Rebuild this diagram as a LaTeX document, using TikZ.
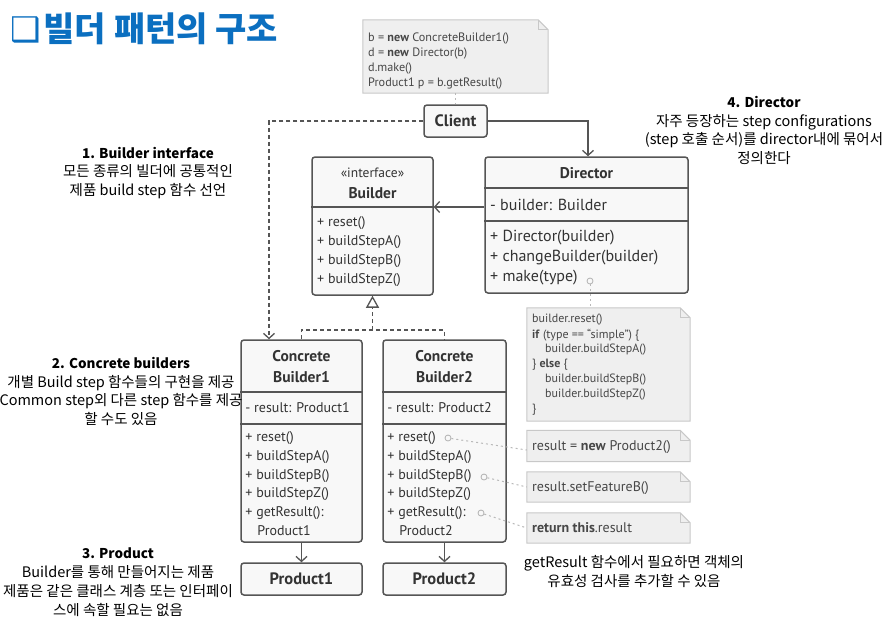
\documentclass[tikz,border=0pt]{standalone}
\usepackage{fontspec}
\setmainfont{PT Sans}
\newfontfamily\kr{Noto Sans CJK KR}
\newfontfamily\dvs{DejaVu Sans}
\usetikzlibrary{arrows.meta}
\definecolor{boxc}{HTML}{555555}
\definecolor{txt}{HTML}{333333}
\definecolor{notefill}{HTML}{EFEFEF}
\definecolor{noteline}{HTML}{C8C8C8}
\definecolor{titleblue}{HTML}{0B6FC0}
\definecolor{boxfill}{HTML}{F8F8F8}
\newcommand\annhead{\bfseries\fontsize{13.5}{18.8}\selectfont}
\newcommand\drawnote[1]{%
  \draw[noteline, fill=notefill, line width=1pt]
    (#1.north west) -- ([xshift=-10pt]#1.north east) -- ([yshift=-10pt]#1.north east)
    -- (#1.south east) -- (#1.south west) -- cycle;
  \draw[noteline, line width=0.8pt]
    ([xshift=-10pt]#1.north east) -- ([xshift=-10pt,yshift=-10pt]#1.north east) -- ([yshift=-10pt]#1.north east);}
\tikzset{
  umlbox/.style={draw=boxc, line width=1.5pt, rounded corners=3pt, fill=boxfill, inner sep=0pt},
  divider/.style={draw=boxc, line width=1.5pt},
  mem/.style={anchor=west, inner sep=0pt, text=txt, font=\fontsize{14}{16}\selectfont},
  memd/.style={anchor=west, inner sep=0pt, text=txt, font=\fontsize{16}{18}\selectfont},
  hdr/.style={inner sep=0pt, text=txt, font=\fontsize{15.5}{17}\selectfont\bfseries},
  hdrb/.style={inner sep=0pt, text=txt, font=\fontsize{16.5}{18}\selectfont\bfseries},
  stereo/.style={inner sep=0pt, text=txt, font=\fontsize{13.5}{15}\selectfont},
  notebox/.style={inner sep=0pt, draw=none},
  notetxt/.style={anchor=west, inner sep=0pt, text=txt!90, font=\fontsize{12.2}{14}\selectfont},
  notetxtb/.style={anchor=west, inner sep=0pt, text=txt!90, font=\fontsize{14}{16}\selectfont},
  ann/.style={inner sep=0pt, align=center, font=\kr\fontsize{14.5}{18.8}\selectfont},
  arr/.style={draw=boxc, line width=1.3pt, -{Straight Barb[length=5pt,width=11pt]}},
  dashln/.style={dash pattern=on 4pt off 3pt},
  dotln/.style={draw=gray!55, line width=1pt, dash pattern=on 2pt off 3pt},
  pin/.style={circle, draw=gray!60, line width=0.8pt, minimum size=6pt, inner sep=0pt}
}
\begin{document}
\begin{tikzpicture}[x=1pt,y=-1pt]
\fill[white] (0,0) rectangle (885,622);
\useasboundingbox (0,0) rectangle (885,622);

% title
\node[anchor=west, inner sep=0pt, text=titleblue, font=\fontsize{34}{36}\selectfont] (title) at (10,29)
  {{\dvs ❑}\hspace{3pt}{\kr\bfseries 빌더 패턴의 구조}};

% notes
\node[notebox, minimum width=185, minimum height=73] (n1) at (455.5,56.5) {};
\drawnote{n1}
\node[notetxt] at (368,38) {b = \textbf{new} ConcreteBuilder1()};
\node[notetxt] at (368,53) {d = \textbf{new} Director(b)};
\node[notetxt] at (368,68) {d.make()};
\node[notetxt] at (368,83) {Product1 p = b.getResult()};

\node[notebox, minimum width=163, minimum height=113] (n2) at (608.5,364.5) {};
\drawnote{n2}
\begin{scope}[every node/.style={notetxt, font=\fontsize{12}{13}\selectfont}]
\node at (532,320) {builder.reset()};
\node at (532,335) {\textbf{if} (type == “simple”) \{};
\node at (545,350) {builder.buildStepA()};
\node at (532,365) {\} \textbf{else} \{};
\node at (545,380) {builder.buildStepB()};
\node at (545,395) {builder.buildStepZ()};
\node at (532,410) {\}};
\end{scope}

\node[notebox, minimum width=163, minimum height=31] (n3) at (608.5,446) {};
\drawnote{n3}
\node[notetxtb] at (532,447) {result = \textbf{new} Product2()};
\node[notebox, minimum width=163, minimum height=30] (n4) at (608.5,487) {};
\drawnote{n4}
\node[notetxtb] at (532,488) {result.setFeatureB()};
\node[notebox, minimum width=163, minimum height=30] (n5) at (608.5,528) {};
\drawnote{n5}
\node[notetxtb] at (532,528) {\textbf{return this}.result};

% Client
\node[umlbox, minimum width=63, minimum height=32] (client) at (455.5,121) {};
\node[hdrb] at (client) {Client};

% Builder interface
\node[umlbox, minimum width=121, minimum height=138] (builder) at (372.5,226) {};
\draw[divider] (builder.west |- 0,207) -- (builder.east |- 0,207);
\node[stereo] at (372.5,173) {«interface»};
\node[hdr] at (372.5,193) {Builder};
\node[mem] at (317,223) {+ reset()};
\node[mem] at (317,242) {+ buildStepA()};
\node[mem] at (317,261) {+ buildStepB()};
\node[mem] at (317,280) {+ buildStepZ()};

% Director
\node[umlbox, minimum width=203, minimum height=136] (director) at (586.5,225) {};
\draw[divider] (director.west |- 0,188) -- (director.east |- 0,188);
\draw[divider] (director.west |- 0,221) -- (director.east |- 0,221);
\node[hdr] at (586.5,173) {Director};
\node[memd] at (490,205) {- builder: Builder};
\node[memd] at (490,238) {+ Director(builder)};
\node[memd] at (490,258) {+ changeBuilder(builder)};
\node[memd] at (490,278) {+ make(type)};
\node[pin] (c0) at (590,281) {};

% Concrete builders
\foreach \nm/\cx/\w/\k in {cb1/301.5/121/1, cb2/444.5/123/2} {
  \node[umlbox, minimum width=\w, minimum height=202] (\nm) at (\cx,441) {};
  \draw[divider] (\nm.west |- 0,392) -- (\nm.east |- 0,392);
  \draw[divider] (\nm.west |- 0,424) -- (\nm.east |- 0,424);
  \node[hdr] at (\cx,356) {Concrete};
  \node[hdr] at (\cx,377) {Builder\k};
  \node[mem] at ([xshift=5pt]\nm.west |- 0,408) {- result: Product\k};
  \node[mem] at ([xshift=5pt]\nm.west |- 0,438) {+ reset()};
  \node[mem] at ([xshift=5pt]\nm.west |- 0,457) {+ buildStepA()};
  \node[mem] at ([xshift=5pt]\nm.west |- 0,476) {+ buildStepB()};
  \node[mem] at ([xshift=5pt]\nm.west |- 0,494) {+ buildStepZ()};
  \node[mem] at ([xshift=5pt]\nm.west |- 0,513) {+ getResult():};
  \node[mem] at ([xshift=17pt]\nm.west |- 0,531) {Product\k};
}
\node[pin] (c1) at (448,438) {};
\node[pin] (c2) at (484,477) {};
\node[pin] (c3) at (481,513) {};

% Products
\node[umlbox, minimum width=121, minimum height=32] (p1) at (301.5,579) {};
\node[hdrb] at (p1) {Product1};
\node[umlbox, minimum width=123, minimum height=32] (p2) at (444.5,579) {};
\node[hdrb] at (p2) {Product2};

% connectors
\draw[dotln] (n1.south) -- (client.north);
\draw[arr, dashln] (client.west) -| ([xshift=-32.5pt]cb1.north);
\draw[arr] (client.east) -| ([xshift=1.5pt]director.north);
\draw[arr] (director.west |- 0,207) -- (builder.east |- 0,207);
\coordinate (junc) at (builder.south |- 0,330);
\draw[draw=boxc, line width=1.3pt, dashln] (cb1.north) -- (cb1.north |- junc) -- (cb2.north |- junc) -- (cb2.north);
\draw[draw=boxc, line width=1.3pt, dashln, -{Triangle[open, length=12pt, width=13pt, fill=white]}] (junc) -- (builder.south);
\draw[arr] (cb1.south) -- (p1.north);
\draw[arr] (cb2.south) -- (p2.north);
\draw[dotln] (c0) -- (c0 |- n2.north);
\draw[dotln] (c1) -- ([yshift=-4pt]n3.west);
\draw[dotln] (c2) -- (n4.west);
\draw[dotln] (c3) -- (n5.west);

% annotations
\node[ann] (a1) at (148,173) {{\annhead 1. Builder interface}\\모든 종류의 빌더에 공통적인\\제품 build step 함수 선언};
\node[ann] (a2) at (121,391.5) {{\annhead 2. Concrete builders}\\개별 Build step 함수들의 구현을 제공\\Common step외 다른 step 함수를 제공\\할 수도 있음};
\node[ann] (a3) at (118,582) {{\annhead 3. Product}\\Builder를 통해 만들어지는 제품\\제품은 같은 클래스 계층 또는 인터페이\\스에 속할 필요는 없음};
\node[ann] (a4) at (764,130.5) {{\annhead 4. Director}\\자주 등장하는 step configurations\\(step 호출 순서)를 director내에 묶어서\\정의한다};
\node[ann] (a5) at (634,571.5) {getResult 함수에서 필요하면 객체의\\유효성 검사를 추가할 수 있음};
\end{tikzpicture}
\end{document}
